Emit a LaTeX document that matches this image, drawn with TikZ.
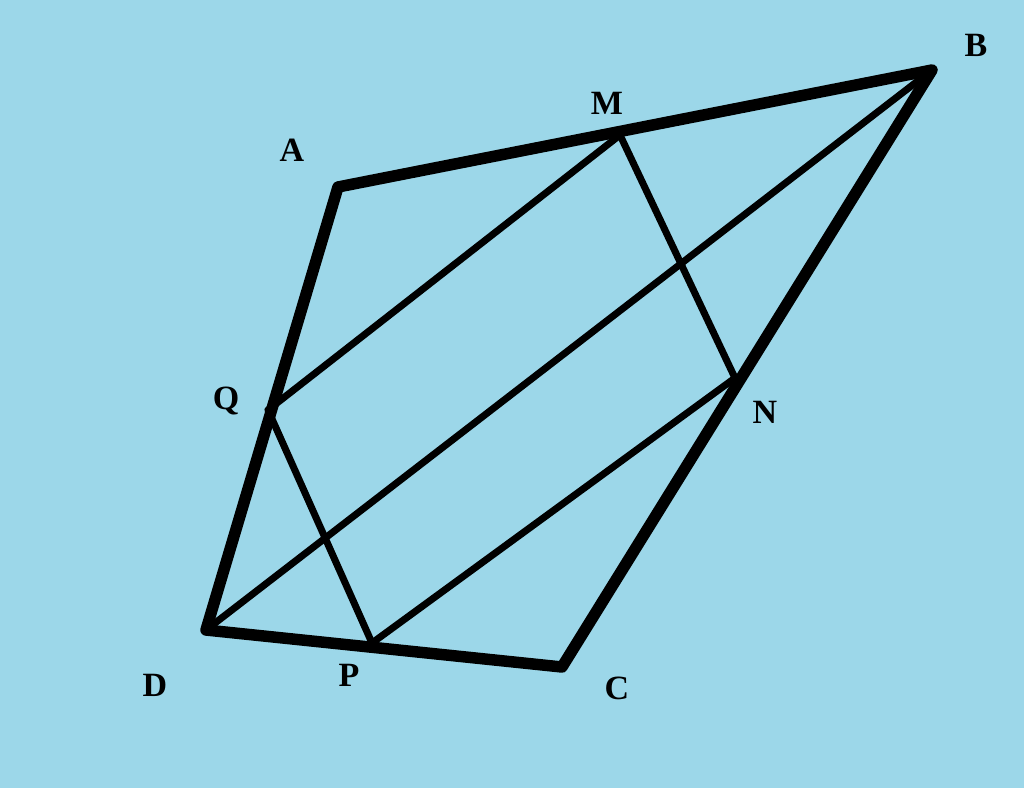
\documentclass[tikz,border=0pt]{standalone}
\usepackage{fontspec}
\setmainfont{Liberation Serif}
\definecolor{bgblue}{RGB}{156,215,233}
\tikzset{
  edge/.style={line width=11.5pt, line join=round, line cap=round},
  inner/.style={line width=7pt, line cap=round},
  lbl/.style={font=\fontsize{34}{38}\selectfont\bfseries, inner sep=0pt}
}
\begin{document}
\begin{tikzpicture}[x=1pt,y=-1pt]
\fill[bgblue] (0,0) rectangle (1024,788);
\useasboundingbox (0,0) rectangle (1024,788);
\coordinate (A) at (338,187);
\coordinate (B) at (932,70);
\coordinate (C) at (562,667);
\coordinate (D) at (206,630);
\coordinate (M) at (620,135);
\coordinate (N) at (735,378);
\coordinate (P) at (372,643);
\coordinate (Q) at (268,410);
\draw[inner] (M) -- (Q);
\draw[inner] (B) -- (D);
\draw[inner] (N) -- (P);
\draw[inner] (M) -- (N);
\draw[inner] (Q) -- (P);
\draw[edge] (A) -- (B) -- (C) -- (D) -- cycle;
\node[lbl] (lA) at (292,150) {A};
\node[lbl] (lB) at (976,45) {B};
\node[lbl] (lM) at (607,103) {M};
\node[lbl] (lQ) at (226,401) {Q};
\node[lbl] (lN) at (765,412) {N};
\node[lbl] (lD) at (155,685) {D};
\node[lbl] (lP) at (349,675) {P};
\node[lbl] (lC) at (617,688) {C};
\end{tikzpicture}
\end{document}
